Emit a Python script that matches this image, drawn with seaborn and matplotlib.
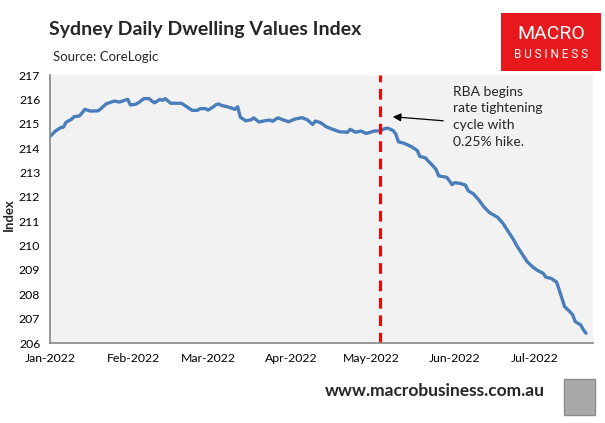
import matplotlib
matplotlib.use("Agg")
import matplotlib.pyplot as plt
import matplotlib.dates as mdates
import pandas as pd
import seaborn as sns
from matplotlib.patches import Rectangle

# days since 1 Jan 2022 and index level
days = [0, 2, 4, 5, 6, 8, 9, 11, 12, 13, 15, 18, 19, 21, 24, 26, 28, 29, 30, 32,
        33, 35, 37, 38, 39, 40, 41, 42, 43, 45, 49, 51, 53, 55, 56, 58, 59, 61, 62, 63,
        64, 66, 68, 69, 70, 71, 73, 75, 76, 78, 80, 82, 83, 85, 87, 89, 91, 94, 96, 98,
        99, 101, 103, 105, 108, 111, 112, 114, 116, 118, 121, 123, 125, 126, 128, 129, 130, 132, 135, 137,
        138, 140, 142, 144, 145, 148, 149, 150, 151, 153, 155, 156, 158, 160, 162, 164, 167, 169, 171, 173,
        174, 176, 178, 180, 182, 184, 185, 187, 189, 190, 191, 192, 194, 195, 196, 198, 199, 200]
values = [214.48, 214.70, 214.84, 214.86, 215.06, 215.18, 215.29, 215.32, 215.45, 215.59,
          215.52, 215.53, 215.62, 215.82, 215.93, 215.89, 215.97, 216.00, 215.77, 215.80,
          215.86, 216.03, 216.03, 215.93, 215.86, 215.93, 216.00, 215.96, 216.03, 215.84,
          215.84, 215.70, 215.55, 215.55, 215.62, 215.62, 215.56, 215.70, 215.79, 215.81,
          215.75, 215.70, 215.63, 215.59, 215.70, 215.27, 215.12, 215.16, 215.24, 215.07,
          215.12, 215.15, 215.10, 215.24, 215.16, 215.08, 215.18, 215.25, 215.16, 214.97,
          215.11, 215.04, 214.88, 214.79, 214.67, 214.65, 214.77, 214.65, 214.70, 214.60,
          214.70, 214.71, 214.80, 214.82, 214.72, 214.58, 214.26, 214.20, 214.05, 213.90,
          213.66, 213.60, 213.37, 213.13, 212.86, 212.80, 212.66, 212.50, 212.58, 212.55,
          212.48, 212.25, 212.12, 211.87, 211.57, 211.35, 211.16, 210.91, 210.57, 210.23,
          210.02, 209.68, 209.34, 209.13, 208.97, 208.86, 208.70, 208.65, 208.50, 208.17,
          207.83, 207.49, 207.28, 207.15, 206.87, 206.74, 206.54, 206.40]

start = pd.Timestamp("2022-01-01")
hike_date = pd.Timestamp("2022-05-04")
y_ticks = list(range(206, 218))
month_ticks = pd.date_range("2022-01-01", "2022-07-01", freq="MS")
annotation = "RBA begins\nrate tightening\ncycle with\n0.25% hike."

df = pd.DataFrame({"Date": start + pd.to_timedelta(days, unit="D"), "Index": values})

sns.set_theme(style="white")
plt.rcParams["font.family"] = ["Lato", "DejaVu Sans"]

fig = plt.figure(figsize=(6.05, 4.23), dpi=100)
ax = fig.add_axes([50 / 605, 1 - 343 / 423, 543 / 605, 268 / 423])
ax.set_facecolor("#F2F2F2")

sns.lineplot(data=df, x="Date", y="Index", ax=ax, color="#4A7EBB", linewidth=2.4)
ax.axvline(hike_date, color="#FF0000", linestyle=(0, (3.5, 2.2)), linewidth=2.2)

ax.set_ylim(206, 217)
ax.set_yticks(y_ticks)
ax.set_xlim(start, pd.Timestamp("2022-07-22 14:00"))
ax.set_xticks(month_ticks)
ax.xaxis.set_major_formatter(mdates.DateFormatter("%b-%Y"))
ax.tick_params(axis="both", which="major", labelsize=8.8, length=4, width=1,
               color="#868686", direction="out", pad=3, labelcolor="black")
ax.set_xlabel("")
ax.set_ylabel("")
fig.text(9 / 605, 1 - 215 / 423, "Index", fontsize=9.5, fontweight="bold",
         rotation=90, ha="center", va="center")
for side in ["top", "right"]:
    ax.spines[side].set_visible(False)
for side in ["left", "bottom"]:
    ax.spines[side].set_color("#868686")
    ax.spines[side].set_linewidth(1.2)

ax.annotate("", xy=(390 / 605, 1 - 116.5 / 423), xytext=(446 / 605, 1 - 121 / 423),
            xycoords="figure fraction", textcoords="figure fraction",
            arrowprops=dict(arrowstyle="-|>", color="black", lw=0.9, mutation_scale=12))
fig.text(453 / 605, 1 - 86 / 423, annotation, fontsize=10, va="top", ha="left",
         linespacing=1.45)

fig.text(49 / 605, 1 - 30 / 423, "Sydney Daily Dwelling Values Index", fontsize=14,
         fontweight="bold", va="center", ha="left")
fig.text(53 / 605, 1 - 57 / 423, "Source: CoreLogic", fontsize=9.5, va="center", ha="left")

# MacroBusiness logo box
fig.patches.append(Rectangle((501 / 605, 1 - 71 / 423), 100 / 605, 58 / 423,
                             transform=fig.transFigure, facecolor="#E8191C", edgecolor="none"))
fig.text(551 / 605, 1 - 34 / 423, "MACRO", color="white", fontsize=14, ha="center",
         va="center", family=["Roboto", "DejaVu Sans"])
fig.text(551 / 605, 1 - 54 / 423, "B U S I N E S S", color="white", fontsize=8.5,
         ha="center", va="center", family=["Roboto", "DejaVu Sans"])

fig.text(545 / 605, 1 - 391 / 423, "www.macrobusiness.com.au", fontsize=12.5,
         fontweight="bold", ha="right", va="center")
fig.patches.append(Rectangle((564 / 605, 1 - 415 / 423), 31 / 605, 36 / 423,
                             transform=fig.transFigure, facecolor="#A9A9A9",
                             edgecolor="#8C8C8C", linewidth=1))

fig.savefig("out.png", dpi=100)
